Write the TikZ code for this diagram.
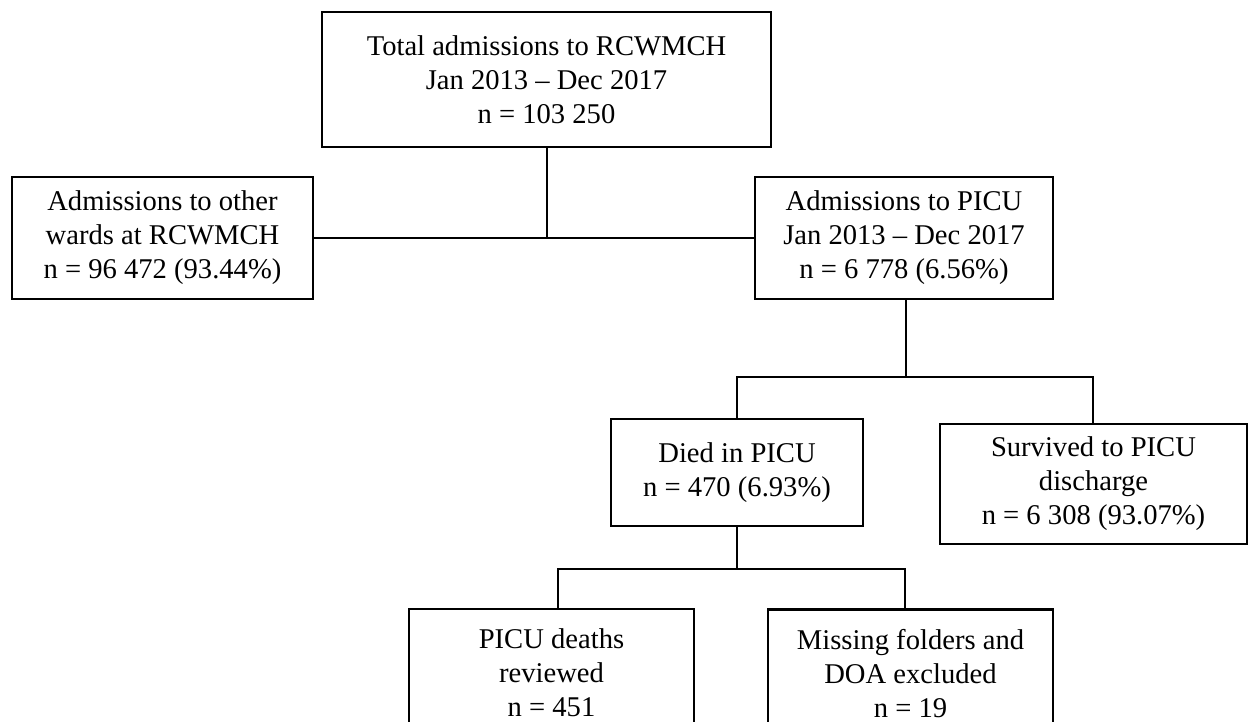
\documentclass[tikz,border=0pt]{standalone}
\usepackage{fontspec}
\setmainfont{Liberation Serif}
\begin{document}
\begin{tikzpicture}[x=0.5pt,y=-0.5pt,
  flowbox/.style={draw=black, line width=1.35pt, fill=white, align=center,
    inner sep=0pt, font=\fontsize{14.3}{17}\selectfont},
  link/.style={draw=black, line width=1pt}]
\useasboundingbox (0,0) rectangle (1248,722);
\clip (0,0) rectangle (1248,722);
\fill[white] (0,0) rectangle (1248,722);

\node[flowbox, minimum width=224.5pt, minimum height=67.5pt] (total) at (546.5,79.5)
  {Total admissions to RCWMCH\\Jan 2013 -- Dec 2017\\n = 103 250};
\node[flowbox, minimum width=150.5pt, minimum height=61pt] (other) at (162.5,238)
  {Admissions to other\\wards at RCWMCH\\n = 96 472 (93.44\%)};
\node[flowbox, minimum width=149pt, minimum height=61pt] (picu) at (904,238)
  {Admissions to PICU\\Jan 2013 -- Dec 2017\\n = 6 778 (6.56\%)};
\node[flowbox, minimum width=126pt, minimum height=53.5pt] (died) at (737,472.5)
  {Died in PICU\\n = 470 (6.93\%)};
\node[flowbox, minimum width=153.5pt, minimum height=60pt] (surv) at (1093.5,484)
  {Survived to PICU\\discharge\\n = 6 308 (93.07\%)};
\node[flowbox, minimum width=142.5pt, minimum height=64pt] (rev) at (551.5,673)
  {PICU deaths\\reviewed\\n = 451};
\node[flowbox, minimum width=142.5pt, minimum height=64pt] (miss) at (910.5,673.5)
  {Missing folders and\\DOA excluded\\n = 19};

% top split
\draw[link] (total.south) -- (total.south |- other.east);
\draw[link] (other.east) -- (picu.west);

% PICU split
\coordinate (pj) at (906,377);
\coordinate (pl) at (737,377);
\coordinate (pr) at (1093,377);
\draw[link] (picu.south -| pj) -- (pj);
\draw[link] (died.north) -- (pl) -- (pr) -- (surv.north -| pr);

% Died split
\coordinate (dl) at (558,569);
\coordinate (dr) at (905,569);
\draw[link] (died.south) -- (died.south |- dl);
\draw[link] (rev.north -| dl) -- (dl) -- (dr) -- (miss.north -| dr);
\end{tikzpicture}
\end{document}
